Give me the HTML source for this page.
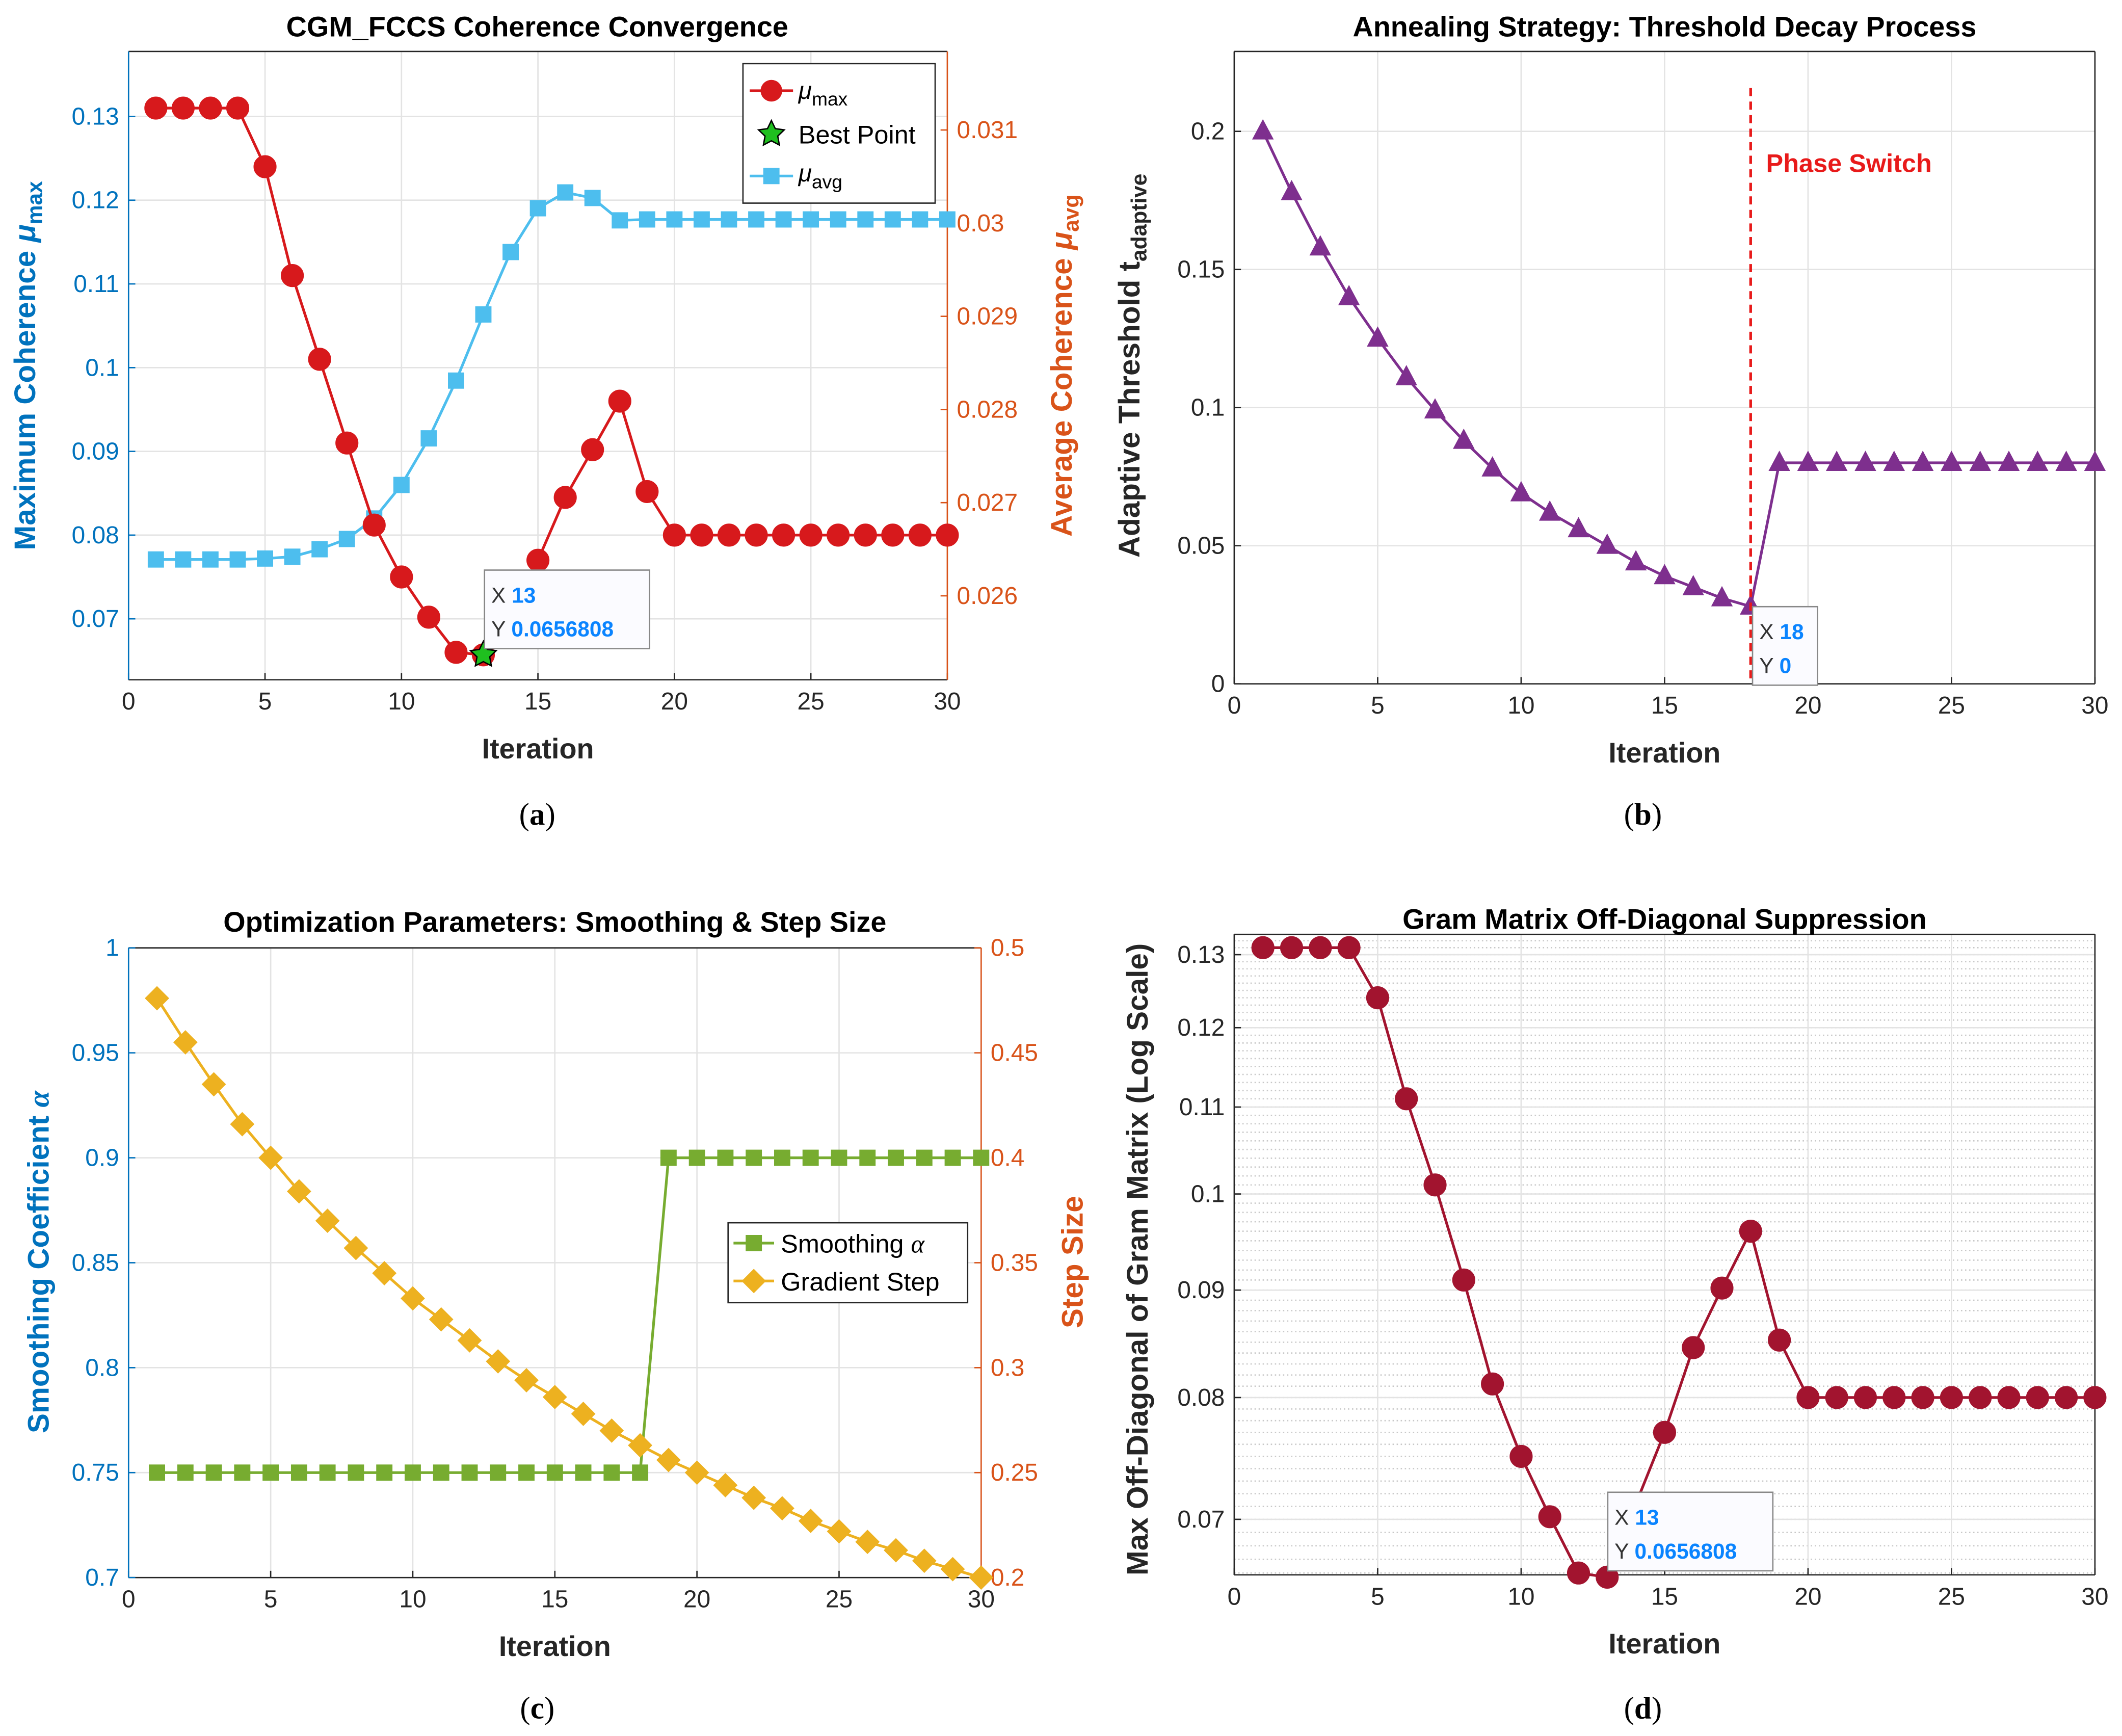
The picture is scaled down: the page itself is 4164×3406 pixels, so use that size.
<!DOCTYPE html>
<html><head><meta charset="utf-8">
<style>
html,body{margin:0;padding:0;background:#fff;}
svg{display:block;}
text{font-family:"Liberation Sans",Arial,sans-serif;}
.cap{font-family:"Liberation Serif",serif;font-size:23px;}
</style></head>
<body>
<svg id="chart" width="4164" height="3406" viewBox="0 0 1568 1282" preserveAspectRatio="none" xmlns="http://www.w3.org/2000/svg">
<rect width="1568" height="1282" fill="#fff"/>
</svg>
<script>
const iterations = Array.from({length:30},(_,i)=>i+1);
const muMax = [0.131,0.131,0.131,0.131,0.124,0.111,0.101,0.091,0.0812,0.075,0.0702,0.066,0.0657,0.0712,0.077,0.0845,0.0902,0.096,0.0852,0.080,0.080,0.080,0.080,0.080,0.080,0.080,0.080,0.080,0.080,0.080];
const muAvg = [0.02639,0.02639,0.02639,0.02639,0.0264,0.02642,0.0265,0.02661,0.02683,0.02719,0.02769,0.02831,0.02902,0.02969,0.03016,0.03033,0.03027,0.03003,0.03004,0.03004,0.03004,0.03004,0.03004,0.03004,0.03004,0.03004,0.03004,0.03004,0.03004,0.03004];
const threshold = [0.2,0.178,0.158,0.14,0.125,0.111,0.099,0.088,0.078,0.069,0.062,0.056,0.050,0.044,0.039,0.035,0.031,0.028,0.08,0.08,0.08,0.08,0.08,0.08,0.08,0.08,0.08,0.08,0.08,0.08];
const smoothing = [0.75,0.75,0.75,0.75,0.75,0.75,0.75,0.75,0.75,0.75,0.75,0.75,0.75,0.75,0.75,0.75,0.75,0.75,0.9,0.9,0.9,0.9,0.9,0.9,0.9,0.9,0.9,0.9,0.9,0.9];
const stepSize = [0.476,0.455,0.435,0.416,0.400,0.384,0.370,0.357,0.345,0.333,0.323,0.313,0.303,0.294,0.286,0.278,0.270,0.263,0.256,0.250,0.244,0.238,0.233,0.227,0.222,0.217,0.213,0.208,0.204,0.200];
const xTicks = [0,5,10,15,20,25,30];
const aLeftTicks = [0.07,0.08,0.09,0.1,0.11,0.12,0.13];
const aRightTicks = [0.026,0.027,0.028,0.029,0.03,0.031];
const bTicks = [0,0.05,0.1,0.15,0.2];
const cLeftTicks = [0.7,0.75,0.8,0.85,0.9,0.95,1];
const cRightTicks = [0.2,0.25,0.3,0.35,0.4,0.45,0.5];
const dTicks = [0.07,0.08,0.09,0.1,0.11,0.12,0.13];

const svg=document.getElementById('chart');
const NS='http://www.w3.org/2000/svg';
function el(tag,attrs,parent,txt){const e=document.createElementNS(NS,tag);for(const k in attrs)e.setAttribute(k,attrs[k]);if(txt!==undefined)e.textContent=txt;(parent||svg).appendChild(e);return e;}
function lin(d0,d1,p0,p1){return v=>p0+(v-d0)/(d1-d0)*(p1-p0);}
function logs(d0,d1,p0,p1){return v=>p0+(Math.log(v)-Math.log(d0))/(Math.log(d1)-Math.log(d0))*(p1-p0);}
function fmt(v){return String(+v.toFixed(4));}

function marker(g,type,x,y,color,sz){
  let m;
  if(type==='circle') m=el('circle',{cx:x,cy:y,r:sz,fill:color,stroke:color},g);
  else if(type==='square') m=el('rect',{x:x-sz,y:y-sz,width:2*sz,height:2*sz,fill:color},g);
  else if(type==='tri') m=el('polygon',{points:`${x},${y-sz-1} ${x-sz},${y+sz-2} ${x+sz},${y+sz-2}`,fill:color},g);
  else if(type==='diamond') m=el('polygon',{points:`${x},${y-sz} ${x+sz},${y} ${x},${y+sz} ${x-sz},${y}`,fill:color},g);
  
  
}
function series(g,name,xs,ys,sx,sy,color,type,sz){
  const sg=el('g',{},g);
  
  
  el('polyline',{points:xs.map((x,i)=>sx(x)+','+sy(ys[i])).join(' '),fill:'none',stroke:color,'stroke-width':2},sg);
  xs.forEach((x,i)=>marker(sg,type,sx(x),sy(ys[i]),color,sz));
}
function frame(g,L,T,R,B,sx,gridY,sy,minor){
  el('rect',{x:L,y:T,width:R-L,height:B-T,fill:'#fff'},g);
  if(minor) minor.forEach(v=>el('line',{x1:L,x2:R,y1:sy(v),y2:sy(v),stroke:'#c8c8c8','stroke-width':1,'stroke-dasharray':'1,2'},g));
  xTicks.forEach(v=>el('line',{x1:sx(v),x2:sx(v),y1:T,y2:B,stroke:'#e3e3e3','stroke-width':1},g));
  gridY.forEach(v=>el('line',{x1:L,x2:R,y1:sy(v),y2:sy(v),stroke:'#e3e3e3','stroke-width':1},g));
}
function xAxis(g,L,T,R,B,sx){
  const a=el('g',{},g);
  
  
  el('line',{x1:L,x2:R,y1:B,y2:B,stroke:'#262626','stroke-width':1},a);
  xTicks.forEach(v=>{el('line',{x1:sx(v),x2:sx(v),y1:B,y2:B-5,stroke:'#262626'},a);
    el('text',{x:sx(v),y:B+22,'text-anchor':'middle','font-size':18,fill:'#262626'},a,String(v));});
  const t=el('text',{x:(L+R)/2,y:B+58,'text-anchor':'middle','font-size':21,'font-weight':'bold',fill:'#262626'},a,'Iteration');
  
  
}
function yAxis(g,x,T,B,ticks,sy,color,side,name){
  const a=el('g',{},g);
  
  
  el('line',{x1:x,x2:x,y1:T,y2:B,stroke:color,'stroke-width':1},a);
  ticks.forEach(v=>{const y=sy(v);const d=side==='left'?5:-5;
    el('line',{x1:x,x2:x+d,y1:y,y2:y,stroke:color},a);
    el('text',{x:side==='left'?x-7:x+7,y:y+6,'text-anchor':side==='left'?'end':'start','font-size':18,fill:color},a,fmt(v));});
  return a;
}
function title(g,x,y,txt){const t=el('text',{x:x,y:y,'text-anchor':'middle','font-size':21,'font-weight':'bold',fill:'#000'},g,txt);
  }
function vtitle(g,x,y,color,html){const t=el('text',{x:0,y:0,transform:`translate(${x},${y}) rotate(-90)`,'text-anchor':'middle','font-size':22,'font-weight':'bold',fill:color},g);
  t.innerHTML=html;}
function caption(x,y,l){const t=el('text',{x:x,y:y,'text-anchor':'middle',class:'cap'},svg,'('+l+')');
  t.innerHTML='(<tspan font-weight="bold">'+l+'</tspan>)';
  }
function datatip(g,x,y,xv,yv,w){
  const d=el('g',{},g);
  
  
  el('rect',{x:x,y:y,width:w,height:58,fill:'#fbfbff',stroke:'#888','stroke-width':1},d);
  const t1=el('text',{x:x+5,y:y+24,'font-size':16,fill:'#333'},d);t1.innerHTML='X <tspan fill="#0a84ff" font-weight="bold">'+xv+'</tspan>';
  const t2=el('text',{x:x+5,y:y+49,'font-size':16,fill:'#333'},d);t2.innerHTML='Y <tspan fill="#0a84ff" font-weight="bold">'+yv+'</tspan>';
}
function panel(name){const g=el('g',{},svg);return g;}

// Panel A
(function(){
  const g=panel('panel-a-coherence-convergence');
  const L=95,T=38,R=700,B=502;
  const sx=lin(0,30,L,R), sy=lin(0.07,0.13,457,86), sy2=lin(0.026,0.031,440,96);
  frame(g,L,T,R,B,sx,aLeftTicks,sy);
  el('line',{x1:L,x2:R,y1:T,y2:T,stroke:'#262626'},g);
  xAxis(g,L,T,R,B,sx);
  yAxis(g,L,T,B,aLeftTicks,sy,'#0072BD','left','y-axis-left');
  yAxis(g,R,T,B,aRightTicks,sy2,'#D95319','right','y-axis-right');
  series(g,'series-mu-avg',iterations,muAvg,sx,sy2,'#4DBEEE','square',6);
  series(g,'series-mu-max',iterations,muMax,sx,sy,'#D7191C','circle',8);
  const s=el('polygon',{points:'0,-10 2.9,-4 9.5,-3.1 4.7,1.5 5.9,8.1 0,5 -5.9,8.1 -4.7,1.5 -9.5,-3.1 -2.9,-4',transform:`translate(${sx(13)},${sy(muMax[12])})`,fill:'#1fbf1f',stroke:'#000','stroke-width':1},g);
  
  datatip(g,358,421,'13','0.0656808',122);
  title(g,397,27,'CGM_FCCS Coherence Convergence');
  vtitle(g,26,270,'#0072BD','Maximum Coherence <tspan font-style="italic">μ</tspan><tspan font-size="16" dy="5">max</tspan>');
  vtitle(g,792,270,'#D95319','Average Coherence <tspan font-style="italic">μ</tspan><tspan font-size="16" dy="5">avg</tspan>');
  const lg=el('g',{},g);
  el('rect',{x:549,y:47,width:142,height:103,fill:'#fff',stroke:'#262626'},lg);
  el('line',{x1:554,x2:586,y1:67,y2:67,stroke:'#D7191C','stroke-width':2},lg);el('circle',{cx:570,cy:67,r:8,fill:'#D7191C'},lg);
  const t1=el('text',{x:590,y:73,'font-size':18},lg);t1.innerHTML='<tspan font-style="italic">μ</tspan><tspan font-size="14" dy="5">max</tspan>';
  el('polygon',{points:'0,-10 2.9,-4 9.5,-3.1 4.7,1.5 5.9,8.1 0,5 -5.9,8.1 -4.7,1.5 -9.5,-3.1 -2.9,-4',transform:'translate(570,99)',fill:'#1fbf1f',stroke:'#000'},lg);
  el('text',{x:590,y:106,'font-size':19},lg,'Best Point');
  el('line',{x1:554,x2:586,y1:130,y2:130,stroke:'#4DBEEE','stroke-width':2},lg);el('rect',{x:564,y:124,width:12,height:12,fill:'#4DBEEE'},lg);
  const t3=el('text',{x:590,y:134,'font-size':18},lg);t3.innerHTML='<tspan font-style="italic">μ</tspan><tspan font-size="14" dy="5">avg</tspan>';
  caption(397,609,'a');
})();

// Panel B
(function(){
  const g=panel('panel-b-threshold-decay');
  const L=912,T=38,R=1548,B=505;
  const sx=lin(0,30,L,R), sy=lin(0,0.2,505,97);
  frame(g,L,T,R,B,sx,bTicks,sy);
  el('line',{x1:L,x2:R,y1:T,y2:T,stroke:'#262626'},g);el('line',{x1:R,x2:R,y1:T,y2:B,stroke:'#262626'},g);
  xAxis(g,L,T,R,B,sx);
  yAxis(g,L,T,B,bTicks,sy,'#262626','left','y-axis');
  series(g,'series-threshold',iterations,threshold,sx,sy,'#7E2F8E','tri',8);
  const ps=el('line',{x1:sx(18),x2:sx(18),y1:65,y2:B,stroke:'#e81a1a','stroke-width':2,'stroke-dasharray':'6,4'},g);
  
  const pt=el('text',{x:1305,y:127,'font-size':19,'font-weight':'bold',fill:'#e81a1a'},g,'Phase Switch');
  
  datatip(g,1295,448,'18','0',48);
  title(g,1230,27,'Annealing Strategy: Threshold Decay Process');
  vtitle(g,842,270,'#262626','Adaptive Threshold t<tspan font-size="16" dy="5">adaptive</tspan>');
  caption(1214,609,'b');
})();

// Panel C
(function(){
  const g=panel('panel-c-optimization-parameters');
  const L=95,T=700,R=725,B=1165;
  const sx=lin(0,30,L,R), sy=lin(0.7,1,B,T), sy2=lin(0.2,0.5,B,T);
  frame(g,L,T,R,B,sx,cLeftTicks,sy);
  el('line',{x1:L,x2:R,y1:T,y2:T,stroke:'#262626'},g);
  xAxis(g,L,T,R,B,sx);
  yAxis(g,L,T,B,cLeftTicks,sy,'#0072BD','left','y-axis-left');
  yAxis(g,R,T,B,cRightTicks,sy2,'#D95319','right','y-axis-right');
  series(g,'series-smoothing',iterations,smoothing,sx,sy,'#77AC30','square',6);
  series(g,'series-gradient-step',iterations,stepSize,sx,sy2,'#EDB120','diamond',9);
  title(g,410,688,'Optimization Parameters: Smoothing & Step Size');
  vtitle(g,36,932,'#0072BD','Smoothing Coefficient <tspan font-style="italic" font-family="Liberation Serif">α</tspan>');
  vtitle(g,800,932,'#D95319','Step Size');
  const lg=el('g',{},g);
  el('rect',{x:538,y:903,width:177,height:59,fill:'#fff',stroke:'#262626'},lg);
  el('line',{x1:542,x2:572,y1:918,y2:918,stroke:'#77AC30','stroke-width':2},lg);el('rect',{x:551,y:912,width:12,height:12,fill:'#77AC30'},lg);
  const t1=el('text',{x:577,y:925,'font-size':19},lg);t1.innerHTML='Smoothing <tspan font-style="italic" font-family="Liberation Serif">α</tspan>';
  el('line',{x1:542,x2:572,y1:946,y2:946,stroke:'#EDB120','stroke-width':2},lg);el('polygon',{points:'557,937 566,946 557,955 548,946',fill:'#EDB120'},lg);
  el('text',{x:577,y:953,'font-size':19},lg,'Gradient Step');
  caption(397,1269,'c');
})();

// Panel D
(function(){
  const g=panel('panel-d-gram-matrix');
  const L=912,T=690,R=1548,B=1163;
  const sx=lin(0,30,L,R), sy=logs(0.07,0.13,1122,705);
  const minor=[];for(let k=66;k<=132;k++){minor.push(k/1000);}
  frame(g,L,T,R,B,sx,dTicks,sy,minor);
  el('line',{x1:L,x2:R,y1:T,y2:T,stroke:'#262626'},g);el('line',{x1:R,x2:R,y1:T,y2:B,stroke:'#262626'},g);
  xAxis(g,L,T,R,B,sx);
  yAxis(g,L,T,B,dTicks,sy,'#262626','left','y-axis');
  series(g,'series-gram-offdiag',iterations,muMax,sx,sy,'#A2142F','circle',8);
  datatip(g,1188,1102,'13','0.0656808',122);
  title(g,1230,686,'Gram Matrix Off-Diagonal Suppression');
  vtitle(g,848,930,'#262626','Max Off-Diagonal of Gram Matrix (Log Scale)');
  caption(1214,1269,'d');
})();
</script>
</body></html>
